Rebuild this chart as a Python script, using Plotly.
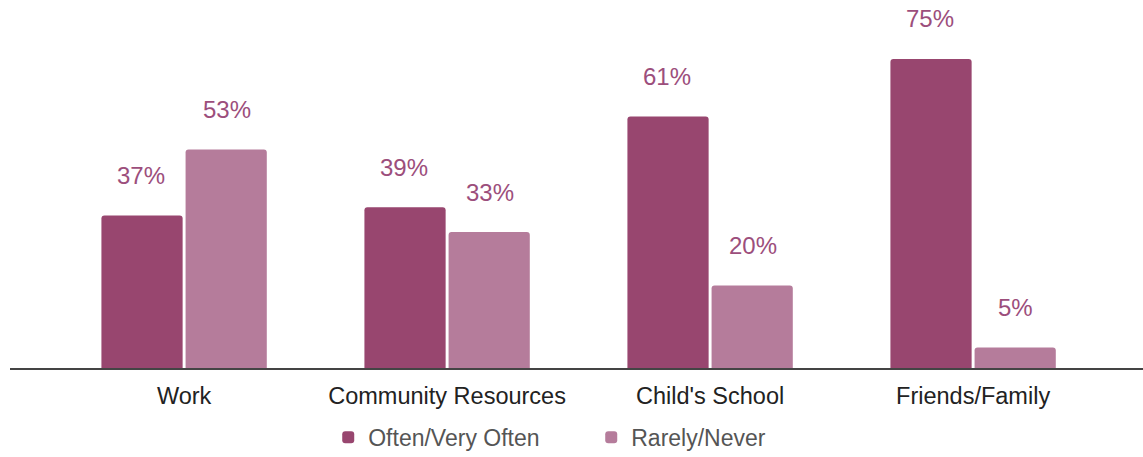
import plotly.graph_objects as go

# Survey responses by resource type
categories = ["Work", "Community Resources", "Child's School", "Friends/Family"]
often = [37, 39, 61, 75]
rarely = [53, 33, 20, 5]

often_color = "#98466F"
rarely_color = "#B57C9B"
label_color = "#9C4E7C"

fig = go.Figure()
fig.add_trace(go.Bar(name="Often/Very Often", x=categories, y=often,
                     marker=dict(color=often_color, line=dict(width=0))))
fig.add_trace(go.Bar(name="Rarely/Never", x=categories, y=rarely,
                     marker=dict(color=rarely_color, line=dict(width=0))))

# Percentage labels floating above each bar
offset = 0.163
for i, (a, b) in enumerate(zip(often, rarely)):
    for dx, v in ((-offset, a), (offset, b)):
        fig.add_annotation(x=i + dx, y=v, xref="x", yref="y", text=f"{v}%",
                           showarrow=False, yanchor="middle", yshift=40,
                           font=dict(size=24, color=label_color,
                                     family="Liberation Sans, Arial, sans-serif"))

fig.update_layout(
    width=1143, height=457,
    margin=dict(l=10, r=0, t=0, b=89, autoexpand=False),
    paper_bgcolor="white", plot_bgcolor="white",
    barmode="group", bargap=0.36, bargroupgap=0.035,
    barcornerradius=3,
    font=dict(family="Liberation Sans, Arial, sans-serif"),
    xaxis=dict(range=[-0.662, 3.646], showline=True, linecolor="#444",
               linewidth=2, showgrid=False, zeroline=False, ticks="",
               ticklabelstandoff=6, automargin=False,
               tickfont=dict(size=23.5, color="#222")),
    yaxis=dict(range=[0, 89.3], visible=False, showgrid=False),
    legend=dict(orientation="h", x=0.513, xanchor="center", y=-0.13,
                yanchor="top", font=dict(size=23, color="#555"),
                itemwidth=30, entrywidth=218, entrywidthmode="pixels"),
    showlegend=True,
)

fig.write_html("out.html")
